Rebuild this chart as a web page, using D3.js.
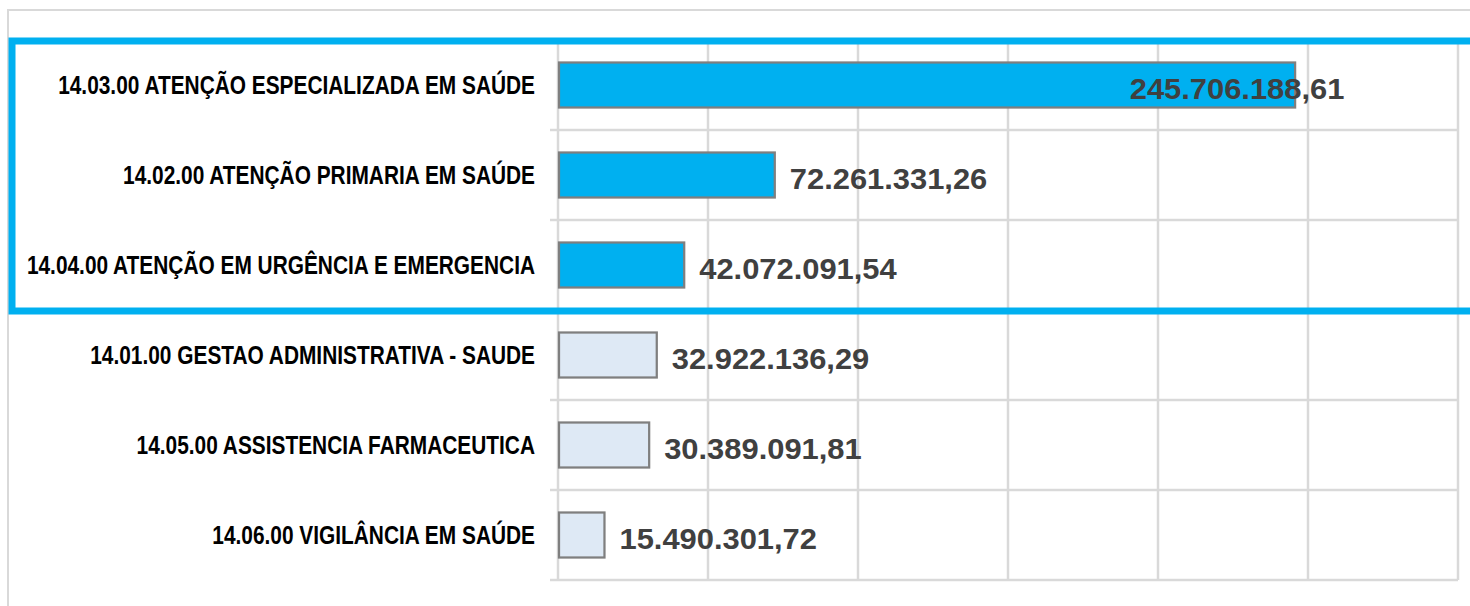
<!DOCTYPE html>
<html><head><meta charset="utf-8">
<script src="https://cdn.jsdelivr.net/npm/d3@7"></script>
<style>html,body{margin:0;padding:0;background:#fff;}svg{display:block;}</style>
</head><body>
<script>
const categories = [
  "14.03.00 ATENÇÃO ESPECIALIZADA EM SAÚDE",
  "14.02.00 ATENÇÃO PRIMARIA EM SAÚDE",
  "14.04.00 ATENÇÃO EM URGÊNCIA E EMERGENCIA",
  "14.01.00 GESTAO ADMINISTRATIVA - SAUDE",
  "14.05.00 ASSISTENCIA FARMACEUTICA",
  "14.06.00 VIGILÂNCIA EM SAÚDE"
];
const values = [245706188.61, 72261331.26, 42072091.54, 32922136.29, 30389091.81, 15490301.72];
const highlighted = [true, true, true, false, false, false];
const tickValues = [0, 50e6, 100e6, 150e6, 200e6, 250e6, 300e6];

const W = 1470, H = 606;
const m = {left: 558, right: 12, top: 40, bottom: 26};
const svg = d3.select("body").append("svg").attr("width", W).attr("height", H);

const x = d3.scaleLinear().domain([0, 300e6]).range([m.left, W - m.right]);
const y = d3.scaleBand().domain(categories).range([m.top, H - m.bottom]).paddingInner(0.5).paddingOuter(0.25);
const step = y.step();
const fmt = v => v.toLocaleString("pt-BR", {minimumFractionDigits: 2, maximumFractionDigits: 2});
const grid = "#d9d9d9";

// outer chart frame
svg.append("rect").attr("x", 8).attr("y", 10).attr("width", W).attr("height", H)
  .attr("fill", "none").attr("stroke", grid).attr("stroke-width", 2);

// horizontal category grid lines
const bounds = categories.map(c => y(c) - step * 0.25).concat([y(categories[categories.length-1]) + y.bandwidth() + step*0.25]);
svg.append("g").selectAll("line").data(bounds).join("line")
  .attr("x1", m.left - 8).attr("x2", x(300e6))
  .attr("y1", d => d).attr("y2", d => d)
  .attr("stroke", grid).attr("stroke-width", 2.5);

// vertical value grid lines
svg.append("g").selectAll("line").data(tickValues).join("line")
  .attr("x1", d => x(d)).attr("x2", d => x(d))
  .attr("y1", bounds[0]).attr("y2", bounds[bounds.length-1])
  .attr("stroke", grid).attr("stroke-width", 2.5);

// bars
svg.append("g").selectAll("rect").data(values).join("rect")
  .attr("x", x(0) + 1).attr("y", (d,i) => y(categories[i]))
  .attr("width", d => x(d) - x(0) - 1).attr("height", y.bandwidth())
  .attr("fill", (d,i) => highlighted[i] ? "#00b0f0" : "#dee9f5")
  .attr("stroke", "#7f7f7f").attr("stroke-width", 2.25);

// category labels
svg.append("g").selectAll("text").data(categories).join("text")
  .attr("transform", d => `translate(${m.left - 23},${y(d) + y.bandwidth()/2 + 9}) scale(0.835,1)`)
  .attr("text-anchor", "end")
  .attr("font-family", "Liberation Sans, Arial, sans-serif")
  .attr("font-weight", "bold").attr("font-size", 25).attr("fill", "#000")
  .text(d => d);

// value labels
const sxv = 1.03;
const vl = svg.append("g").selectAll("text").data(values).join("text")
  .attr("font-family", "Liberation Sans, Arial, sans-serif")
  .attr("font-weight", "bold").attr("font-size", 30).attr("fill", "#404040")
  .text(d => fmt(d));
vl.each(function(d, i) {
  const w = this.getComputedTextLength() * sxv;
  let sx = x(d) + 15;
  if (sx + w > x(300e6)) sx = x(d) - 0.77 * w;
  const ty = y(categories[i]) + y.bandwidth()/2 + 14;
  d3.select(this).attr("transform", `translate(${sx},${ty}) scale(${sxv},1)`);
});

// highlight box
const y0 = y(categories[0]) - step * 0.25 + 1;
const y1 = y(categories[2]) + y.bandwidth() + step * 0.25 + 1;
svg.append("rect").attr("x", 12).attr("y", y0).attr("width", W + 20).attr("height", y1 - y0)
  .attr("fill", "none").attr("stroke", "#00b0f0").attr("stroke-width", 7);
</script>
</body></html>
